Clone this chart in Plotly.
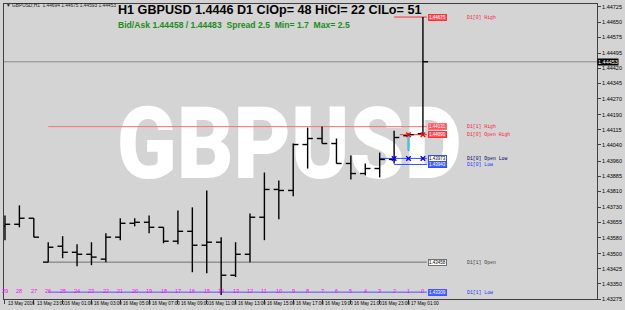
import plotly.graph_objects as go

# ---------------- data ----------------
bars_ago = list(range(29, -1, -1))
opens = [1.43636, 1.43646, 1.43676, 1.43458, 1.43537, 1.43507, 1.43497, 1.43473, 1.43582, 1.43651,
         1.43656, 1.43631, 1.43562, 1.43611, 1.43542, 1.43557, 1.43393, 1.43497, 1.43681, 1.43819,
         1.43814, 1.44042, 1.44072, 1.44047, 1.43948, 1.43898, 1.43923, 1.43968, 1.44086, 1.44096]
highs = [1.43690, 1.43740, 1.43676, 1.43557, 1.43587, 1.43547, 1.43557, 1.43601, 1.43676, 1.43676,
         1.43690, 1.43631, 1.43715, 1.43730, 1.43814, 1.43582, 1.43557, 1.43700, 1.43903, 1.43864,
         1.44047, 1.44126, 1.44131, 1.44072, 1.43987, 1.43948, 1.44002, 1.44111, 1.44096, 1.44675]
lows = [1.43567, 1.43631, 1.43582, 1.43458, 1.43478, 1.43438, 1.43443, 1.43458, 1.43567, 1.43636,
        1.43601, 1.43552, 1.43547, 1.43408, 1.43403, 1.43295, 1.43384, 1.43458, 1.43567, 1.43671,
        1.43785, 1.43923, 1.44047, 1.43948, 1.43869, 1.43888, 1.43879, 1.43948, 1.44012, 1.44091]
closes = [1.43646, 1.43676, 1.43582, 1.43532, 1.43507, 1.43497, 1.43483, 1.43582, 1.43651, 1.43656,
          1.43631, 1.43562, 1.43611, 1.43542, 1.43557, 1.43393, 1.43497, 1.43681, 1.43819, 1.43814,
          1.44042, 1.44072, 1.44047, 1.43948, 1.43898, 1.43923, 1.43968, 1.44077, 1.44091, 1.44453]

time_label_bars = [29, 27, 25, 23, 21, 19, 17, 15, 13, 11, 9, 7, 5, 3, 1]
time_labels = ["13 May 2016", "13 May 23:00", "16 May 01:00", "16 May 03:00", "16 May 05:00",
               "16 May 07:00", "16 May 09:00", "16 May 11:00", "16 May 13:00", "16 May 15:00",
               "16 May 17:00", "16 May 19:00", "16 May 21:00", "16 May 23:00", "17 May 01:00"]

price_ticks = [1.44725, 1.44650, 1.44575, 1.44495, 1.44420, 1.44345, 1.44270, 1.44190, 1.44115,
               1.44040, 1.43960, 1.43885, 1.43810, 1.43730, 1.43655, 1.43580, 1.43500, 1.43425,
               1.43350, 1.43275]

bid = 1.44453

# D1 levels: name, price, start bar (bars ago), line colour, box fill, box text colour, label colour
levels = [
    ("D1[0] High", 1.44675, 2, "#ff3030", "#ff5060", "#ffffff", "#ff2040"),
    ("D1[1] High", 1.44131, 26, "#ff7070", "#ff5060", "#ffffff", "#ff2040"),
    ("D1[0] Open High", 1.44091, 1.6, "#ff3030", "#ff5060", "#ffffff", "#ff2040"),
    ("D1[0] Open Low", 1.43973, 3, "#3050ff", "#ffffff", "#000000", "#000060"),
    ("D1[0] Low", 1.43943, 2, "#3050ff", "#4060ff", "#ffffff", "#2030ff"),
    ("D1[1] Open", 1.43458, 26, "#707070", "#ffffff", "#000000", "#404040"),
    ("D1[1] Low", 1.43309, 26, "#5050ff", "#4060ff", "#ffffff", "#2030ff"),
]

open_high_marks_bars = [1, 0]
open_low_marks_bars = [2, 1, 0]
cyan_bar = 1
cyan_range = [1.44086, 1.44012]

title_text = "H1 GBPUSD 1.4446 D1 ClOp= 48 HiCl= 22 ClLo= 51"
info_text = "Bid/Ask 1.44458 / 1.44483  Spread 2.5  Min= 1.7  Max= 2.5"
corner_text = "\u25bc GBPUSD,H1  1.44694 1.44675 1.44593 1.44453"
watermark = "GBPUSD"

# ---------------- layout geometry ----------------
W, H = 625, 310
L, R, T, B = 3, 19, 3, 11
PW, PH = W - L - R, H - T - B
BAR_PX = 14.655
X0 = -1.0 / BAR_PX
X1 = X0 + PW / BAR_PX
Y_TOP = 1.44725 + 3 / 20207.0
Y_BOT = 1.43275
TICK = 0.36


def idx(ago):
    return 29 - ago


def px_to_x(px):
    return (px - 2) / BAR_PX


def py_to_price(py):
    return Y_TOP - (py - T) / PH * (Y_TOP - Y_BOT)


def py_to_paper(py):
    return 1 - (py - T) / PH


def px_to_paper(px):
    return (px - L) / PW


fig = go.Figure()

# watermark behind everything
fig.add_trace(go.Scatter(
    x=[px_to_x(291)], y=[py_to_price(153)], mode="text", text=[watermark],
    textfont=dict(family="Roboto, Liberation Sans, Arial", size=100, color="#ffffff", weight=900),
    textposition="middle center", hoverinfo="skip", showlegend=False))

# current price line
fig.add_trace(go.Scatter(x=[X0, X1], y=[bid, bid], mode="lines",
                         line=dict(color="#8a8a8a", width=1), hoverinfo="skip", showlegend=False))

# D1 level lines
x_end = px_to_x(431)
for name, p, start, lc, bf, bt, tc in levels:
    fig.add_trace(go.Scatter(x=[idx(start), x_end], y=[p, p], mode="lines",
                             line=dict(color=lc, width=1), hoverinfo="skip", showlegend=False))

# OHLC bars (high-low stem, open tick left, close tick right)
bx, by = [], []
for a, o, h, lo, c in zip(bars_ago, opens, highs, lows, closes):
    i = idx(a)
    bx += [i, i, None, i - TICK, i, None, i, i + TICK, None]
    by += [h, lo, None, o, o, None, c, c, None]
fig.add_trace(go.Scatter(x=bx, y=by, mode="lines", line=dict(color="#000000", width=1.4),
                         hoverinfo="skip", showlegend=False))

# cyan segment
fig.add_trace(go.Scatter(x=[idx(cyan_bar)] * 2, y=cyan_range, mode="lines",
                         line=dict(color="#00e0ff", width=1.3), hoverinfo="skip", showlegend=False))

# markers
fig.add_trace(go.Scatter(x=[idx(a) for a in open_high_marks_bars], y=[levels[2][1]] * 2, mode="markers",
                         marker=dict(symbol="x-thin", size=4.5, line=dict(color="#ff0000", width=1.3)),
                         hoverinfo="skip", showlegend=False))
fig.add_trace(go.Scatter(x=[idx(a) for a in open_low_marks_bars], y=[levels[3][1]] * 3, mode="markers",
                         marker=dict(symbol="x-thin", size=4.5, line=dict(color="#0000ff", width=1.3)),
                         hoverinfo="skip", showlegend=False))

annotations = []
for name, p, start, lc, bf, bt, tc in levels:
    annotations.append(dict(x=px_to_x(432), y=p, xref="x", yref="y", xanchor="left", yanchor="middle",
                            text=f"{p:.5f}", showarrow=False, bgcolor=bf, bordercolor=lc, borderwidth=1,
                            borderpad=0, font=dict(family="Liberation Sans, Arial", size=4.5, color=bt)))
    annotations.append(dict(x=px_to_x(470), y=p, xref="x", yref="y", xanchor="left", yanchor="middle",
                            text=name, showarrow=False,
                            font=dict(family="Liberation Mono, Courier New, monospace", size=4.8, color=tc)))

annotations.append(dict(x=1.0, y=bid, xref="paper", yref="y", xanchor="left", yanchor="middle",
                        text=f"{bid:.5f}", showarrow=False, bgcolor="#000000", borderpad=0,
                        font=dict(family="Liberation Sans, Arial", size=5.5, color="#ffffff")))

for a, t in zip(time_label_bars, time_labels):
    annotations.append(dict(x=idx(a) + 0.05, y=py_to_paper(304), xref="x", yref="paper", xanchor="left",
                            yanchor="middle", text=t, showarrow=False,
                            font=dict(family="Liberation Sans, Arial", size=4.6, color="#000000")))

for a in bars_ago:
    annotations.append(dict(x=idx(a), y=py_to_paper(291), xref="x", yref="paper", xanchor="center",
                            yanchor="middle", text=str(a), showarrow=False,
                            font=dict(family="Liberation Sans, Arial", size=5.6, color="#ff00ff")))

annotations.append(dict(x=px_to_paper(117), y=py_to_paper(9), xref="paper", yref="paper", xanchor="left",
                        yanchor="middle", text="<b>" + title_text + "</b>", showarrow=False,
                        font=dict(family="Liberation Sans, Arial", size=12.6, color="#000000")))
annotations.append(dict(x=px_to_paper(117), y=py_to_paper(24), xref="paper", yref="paper", xanchor="left",
                        yanchor="middle", text="<b>" + info_text + "</b>", showarrow=False,
                        font=dict(family="Liberation Sans, Arial", size=8.6, color="#1e8c1e")))
annotations.append(dict(x=px_to_paper(3), y=py_to_paper(5), xref="paper", yref="paper", xanchor="left",
                        yanchor="middle", text=corner_text, showarrow=False,
                        font=dict(family="Liberation Sans, Arial", size=4.8, color="#202020")))

fig.update_layout(
    width=W, height=H, margin=dict(l=L, r=R, t=T, b=B),
    paper_bgcolor="#d4d4d4", plot_bgcolor="#d4d4d4",
    showlegend=False, annotations=annotations,
    xaxis=dict(range=[X0, X1], showgrid=False, zeroline=False,
               showline=True, linecolor="#404040", linewidth=1, mirror=True,
               tickvals=[idx(a) for a in time_label_bars], ticks="outside", ticklen=4,
               tickcolor="#404040", showticklabels=False),
    yaxis=dict(range=[Y_BOT, Y_TOP], side="right", showgrid=False, zeroline=False,
               showline=True, linecolor="#404040", linewidth=1, mirror=True,
               tickvals=price_ticks, ticktext=[f"{v:.5f}" for v in price_ticks],
               ticks="outside", ticklen=3, tickcolor="#404040",
               tickfont=dict(family="Liberation Sans, Arial", size=5.5, color="#000000")),
)

# condense the watermark horizontally (MT4 uses a narrow heavy face)
post = """
var t = document.querySelector('.scatterlayer .trace .textpoint text');
if (t) {
  var bb = t.getBBox();
  var cx = bb.x + bb.width / 2;
  var sx = 345 / bb.width;
  t.setAttribute('transform', 'translate(' + cx + ',0) scale(' + sx + ',1) translate(' + (-cx) + ',0)');
}
"""

fig.write_html("out.html", post_script=post)
